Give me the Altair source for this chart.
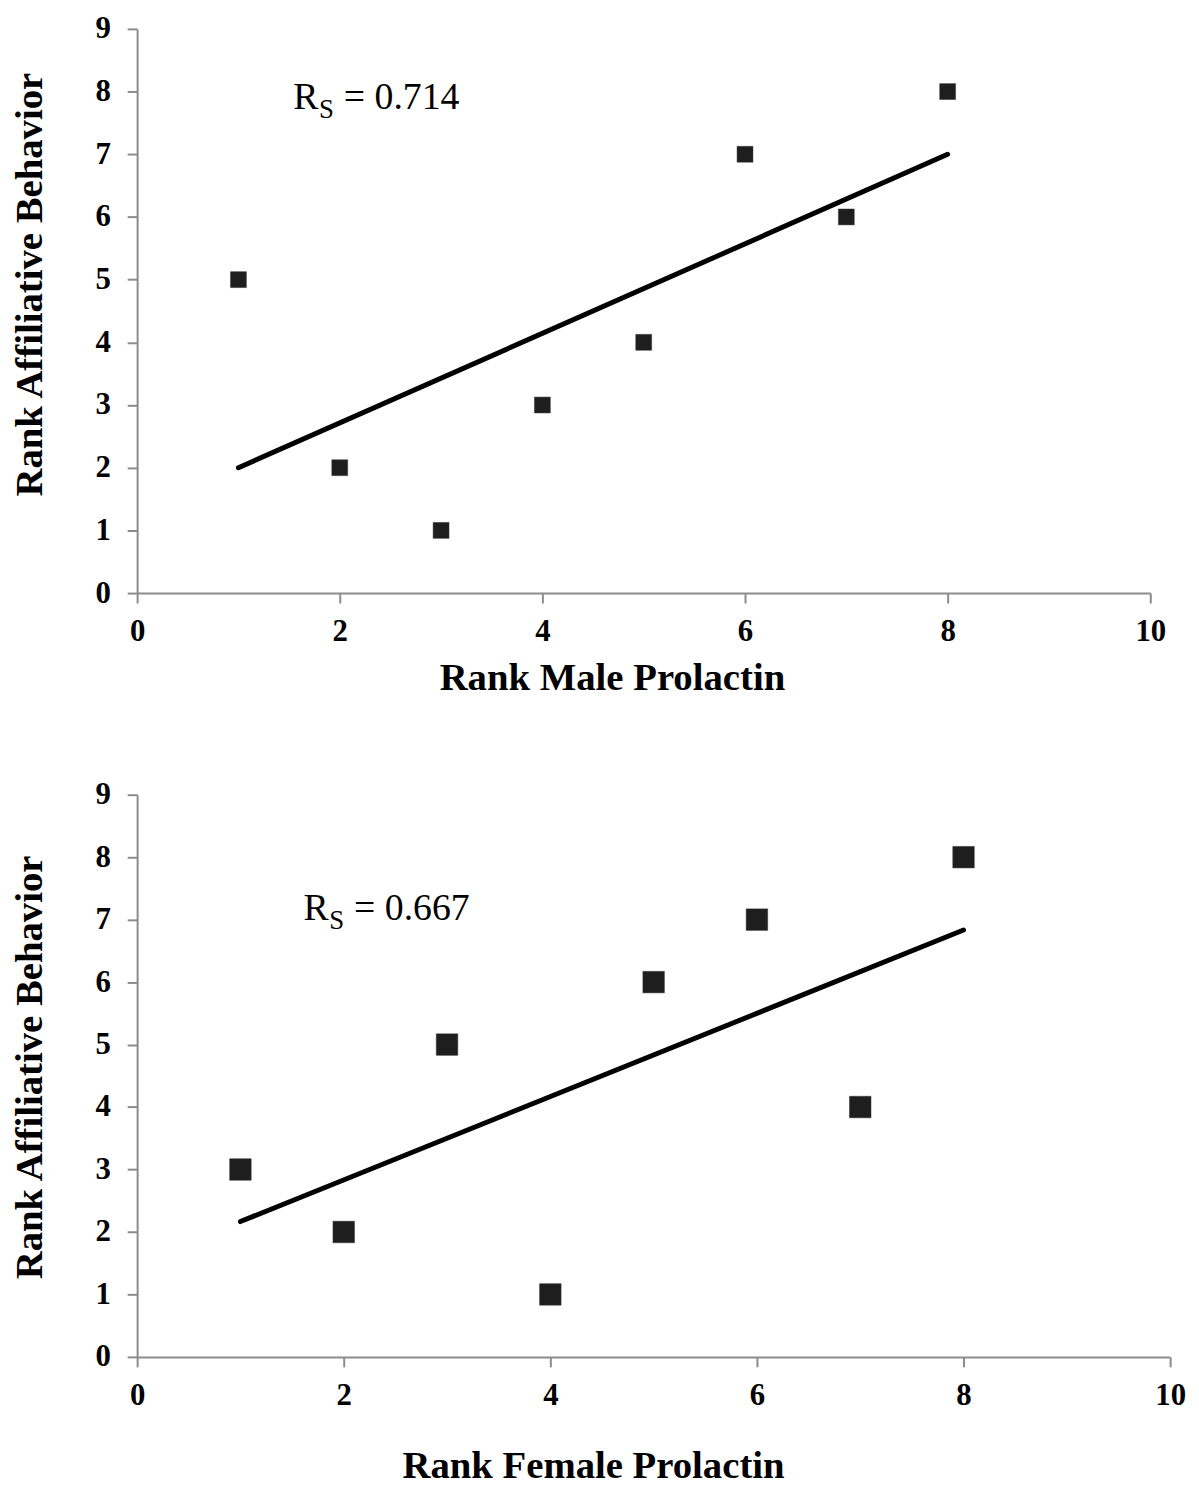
import altair as alt
import pandas as pd

# ---- data ----
male_rank_prl = [1, 2, 3, 4, 5, 6, 7, 8]
male_rank_aff = [5, 2, 1, 3, 4, 7, 6, 8]
female_rank_prl = [1, 2, 3, 4, 5, 6, 7, 8]
female_rank_aff = [3, 2, 5, 1, 6, 7, 4, 8]
x_ticks = [0, 2, 4, 6, 8, 10]
y_ticks = [0, 1, 2, 3, 4, 5, 6, 7, 8, 9]
rs_values = ["0.714", "0.667"]
ann_pos_x = [1.54, 1.61]
ann_pos_y = [7.72, 7.0]
x_titles = ["Rank Male Prolactin", "Rank Female Prolactin"]
y_title = "Rank Affiliative Behavior"

FONT = "Liberation Serif"


def panel(xs, ys, xtitle, rs, ax, ay, width, height, msize, tx, ty, yty):
    df = pd.DataFrame({"x": xs, "y": ys})
    xenc = alt.X(
        "x:Q",
        scale=alt.Scale(domain=[0, 10], nice=False),
        axis=alt.Axis(values=x_ticks, format="d", title=xtitle, titleX=tx, titleY=ty,
                      labelFlush=False,
                      titleBaseline="alphabetic", titleAlign="center"),
    )
    yenc = alt.Y(
        "y:Q",
        scale=alt.Scale(domain=[0, 9], nice=False),
        axis=alt.Axis(values=y_ticks, format="d", title=y_title, titleX=-96, titleY=yty,
                      labelFlush=False,
                      titleBaseline="alphabetic", titleAlign="center", titleAngle=270),
    )
    pts = alt.Chart(df).mark_square(size=msize, color="#1e1e1e", opacity=1,
                                    stroke="#333333", strokeWidth=0.5).encode(x=xenc, y=yenc)
    line = alt.Chart(df).transform_regression("x", "y").mark_line(
        color="black", strokeWidth=5, strokeCap="round").encode(x="x:Q", y="y:Q")
    adf = pd.DataFrame({"x": [ax], "y": [ay]})
    t_r = alt.Chart(adf).mark_text(text="R", font=FONT, fontSize=38, align="left",
                                   baseline="alphabetic", color="black").encode(x="x:Q", y="y:Q")
    t_s = alt.Chart(adf).mark_text(text="S", font=FONT, fontSize=27, align="left",
                                   baseline="alphabetic", color="black", dx=26, dy=9).encode(x="x:Q", y="y:Q")
    t_v = alt.Chart(adf).mark_text(text="= " + rs, font=FONT, fontSize=38, align="left",
                                   baseline="alphabetic", color="black", dx=51).encode(x="x:Q", y="y:Q")
    return alt.layer(pts, line, t_r, t_s, t_v).properties(width=width, height=height)


top = panel(male_rank_prl, male_rank_aff, x_titles[0], rs_values[0], ann_pos_x[0], ann_pos_y[0],
            1020, 568, 256, 478, 97, 257)
bottom = panel(female_rank_prl, female_rank_aff, x_titles[1], rs_values[1], ann_pos_x[1], ann_pos_y[1],
               1040, 566, 470, 459, 121, 274)

chart = alt.vconcat(top, bottom, spacing=203, bounds="flush").configure_view(
    stroke=None
).configure_axis(
    grid=False,
    domainColor="#8c8c8c", domainWidth=2,
    tickColor="#8c8c8c", tickWidth=2, tickSize=10,
    labelFont=FONT, labelFontWeight="bold", labelFontSize=31, labelColor="black",
    titleFont=FONT, titleFontWeight="bold", titleFontSize=39, titleColor="black",
).configure_axisX(labelPadding=14).configure_axisY(labelPadding=17).properties(
    background="white", padding={"left": 2, "top": 0, "right": 5, "bottom": 5}
)

chart.save("out.html", embed_options={"renderer": "svg", "actions": False})
